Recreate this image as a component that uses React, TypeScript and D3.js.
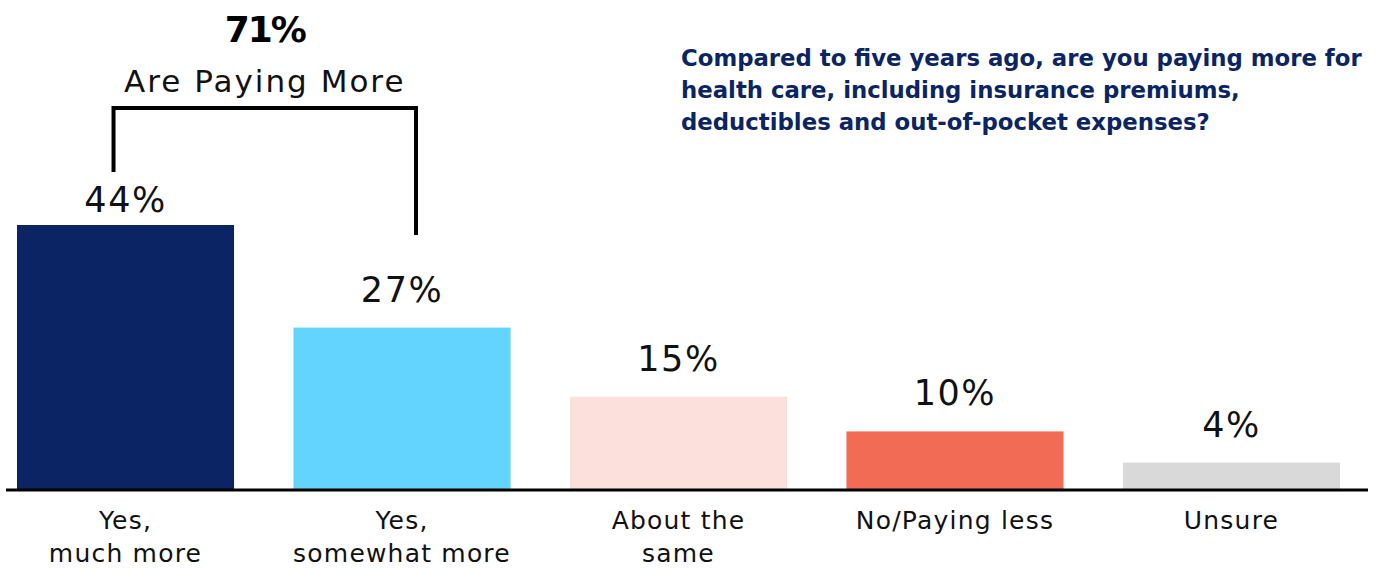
import React from "react";
import * as d3 from "d3";

const categories = [["Yes,", "much more"], ["Yes,", "somewhat more"], ["About the", "same"], ["No/Paying less"], ["Unsure"]];
const values = [44, 26.9, 15.4, 9.6, 4.4];
const valueLabels = ["44%", "27%", "15%", "10%", "4%"];
const colors = ["#0b2463", "#62d4fe", "#fbe0dc", "#f26b55", "#d9d9d9"];
const questionLines = [
  "Compared to five years ago, are you paying more for",
  "health care, including insurance premiums,",
  "deductibles and out-of-pocket expenses?",
];
const bracketTotal = "71%";
const bracketLabel = "Are Paying More";

const W = 1377;
const H = 568;
const FONT = "'DejaVu Sans', sans-serif";

export default function App() {
  const x = d3.scaleBand<number>().domain(d3.range(values.length)).range([17, 1340]).paddingInner(0.215).paddingOuter(0);
  const y = d3.scaleLinear().domain([0, 44]).range([489, 225]);
  const base = y(0);
  const c0 = x(0)! + x.bandwidth() / 2;
  const c1 = x(1)! + x.bandwidth() / 2;
  const bl = c0 - 12;
  const br = c1 + 14;
  return (
    <svg width={W} height={H} style={{ position: "absolute", left: 0, top: 0, background: "#fff" }} fontFamily={FONT}>
      {values.map((v, i) => (
        <g key={i}>
          <rect x={x(i)} y={y(v)} width={x.bandwidth()} height={base - y(v)} fill={colors[i]} />
          <text x={x(i)! + x.bandwidth() / 2} y={y(v) - (i === 0 ? 13 : 26)} textAnchor="middle" fontSize={35} letterSpacing={1.5} fill="#111">{valueLabels[i]}</text>
          {categories[i].map((line, j) => (
            <text key={j} x={x(i)! + x.bandwidth() / 2} y={529 + j * 33} textAnchor="middle" fontSize={25} letterSpacing={1.2} fill="#111">{line}</text>
          ))}
        </g>
      ))}
      <line x1={6} x2={1368} y1={base + 1} y2={base + 1} stroke="#000" strokeWidth={3} />
      <path d={`M${bl},172 V108 H${br} V235`} fill="none" stroke="#000" strokeWidth={4} />
      <text x={(bl + br) / 2} y={42} textAnchor="middle" fontSize={36} letterSpacing={-2} fontWeight="bold" fill="#000">{bracketTotal}</text>
      <text x={(bl + br) / 2} y={92} textAnchor="middle" fontSize={31} letterSpacing={2} fill="#111">{bracketLabel}</text>
      {questionLines.map((l, i) => (
        <text key={i} x={681} y={66 + i * 32} fontSize={22.8} fontWeight="bold" fill="#0b2463">{l}</text>
      ))}
    </svg>
  );
}
